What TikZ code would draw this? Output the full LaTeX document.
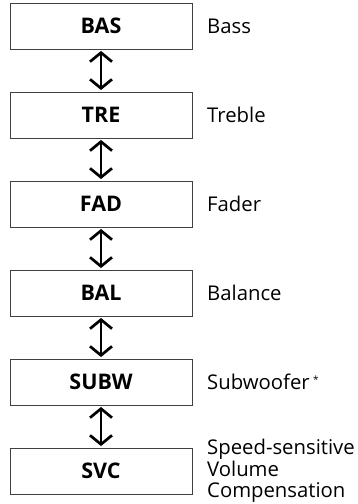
\documentclass[tikz,border=0pt]{standalone}
\usepackage{fontspec}
\setmainfont{Open Sans}
\usetikzlibrary{arrows.meta}
\begin{document}
\begin{tikzpicture}[x=1pt,y=1pt,
  stepbox/.style={draw=black!75, line width=0.9pt, minimum width=182pt, minimum height=46pt, inner sep=0pt, font=\fontsize{21.5}{23}\selectfont\bfseries},
  lbl/.style={anchor=west, inner sep=0pt, align=left, font=\fontsize{20.3}{21.5}\selectfont},
  dbl/.style={line width=2.7pt, {Straight Barb[length=9pt,width=22pt,line width=2.7pt]}-{Straight Barb[length=9pt,width=22pt,line width=2.7pt]}, shorten <=1.5pt, shorten >=1.5pt}]
\useasboundingbox (0,0) rectangle (357,-504);
\foreach \n/\t/\l [count=\i from 0] in {bas/BAS/Bass, tre/TRE/Treble, fad/FAD/Fader, bal/BAL/Balance, subw/SUBW/Subwoofer\,\raisebox{6pt}{\fontsize{10}{10}\selectfont*}, svc/SVC/{Speed-sensitive\\Volume\\Compensation}} {
  \node[stepbox] (\n) at (101,{-26-89*\i}) {\t};
  \node[lbl] (\n-l) at (207,{-26-89*\i}) {\l};
}
\draw[dbl] (bas.south) -- (tre.north);
\draw[dbl] (tre.south) -- (fad.north);
\draw[dbl] (fad.south) -- (bal.north);
\draw[dbl] (bal.south) -- (subw.north);
\draw[dbl] (subw.south) -- (svc.north);
\end{tikzpicture}
\end{document}
